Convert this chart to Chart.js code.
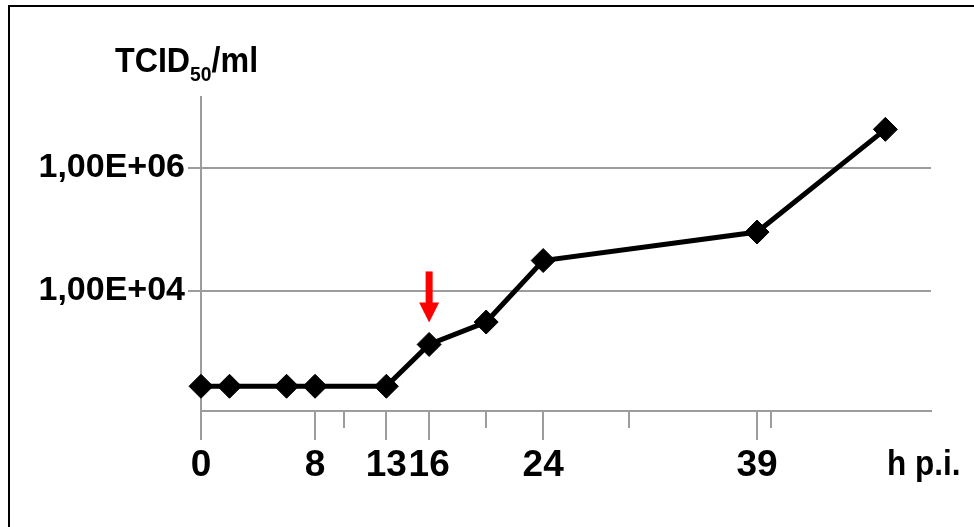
<!DOCTYPE html>
<html>
<head>
<meta charset="utf-8">
<script src="https://cdn.jsdelivr.net/npm/chart.js@4"></script>
<style>
    html, body { margin: 0; padding: 0; background: #fff; }
    #wrap { position: relative; width: 974px; height: 527px; overflow: hidden; }
    #frame { position: absolute; left: 8px; top: 5px; right: -4px; bottom: -4px; border-left: 2px solid #000; border-top: 2px solid #000; }
    canvas { position: absolute; left: 0; top: 0; }
</style>
</head>
<body>
<div id="wrap">
    <div id="frame"></div>
    <canvas id="titerChart" width="974" height="527"></canvas>
</div>
<script>
// hours post infection and measured titre (TCID50/ml)
const hours = [0, 2, 6, 8, 13, 16, 20, 24, 39, 48];
const titer = [280, 280, 280, 280, 280, 1340, 3100, 31000, 90000, 4200000];
const xMajorTicks = [0, 8, 13, 16, 24, 39];
const xMinorTicks = [10, 20, 30, 40];
const yTicks = [1e4, 1e6];
const yTickLabels = ["1,00E+04", "1,00E+06"];
const arrowAt = 16;

const gridGray = "#9c9c9c";
const fontFamily = "'Liberation Sans', Arial, sans-serif";

const decorations = {
    id: "decorations",
    afterDraw(chart) {
        const ctx = chart.ctx;
        const x = chart.scales.x;
        const y = chart.scales.y;

        // short minor ticks under the x axis
        ctx.save();
        ctx.strokeStyle = gridGray;
        ctx.lineWidth = 2;
        xMinorTicks.forEach(v => {
            const px = Math.round(x.getPixelForValue(v));
            ctx.beginPath();
            ctx.moveTo(px, y.bottom);
            ctx.lineTo(px, y.bottom + 17);
            ctx.stroke();
        });
        ctx.restore();

        // y axis title with subscript
        ctx.save();
        ctx.fillStyle = "#000";
        ctx.textBaseline = "alphabetic";
        ctx.translate(115, 72);
        ctx.scale(0.92, 1);
        ctx.font = "bold 35px " + fontFamily;
        ctx.fillText("TCID", 0, 0);
        let w = ctx.measureText("TCID").width;
        ctx.font = "bold 21px " + fontFamily;
        ctx.fillText("50", w, 9);
        w += ctx.measureText("50").width;
        ctx.font = "bold 35px " + fontFamily;
        ctx.fillText("/ml", w, 0);
        ctx.restore();

        // x axis unit label
        ctx.save();
        ctx.fillStyle = "#000";
        ctx.translate(887, 475);
        ctx.scale(0.9, 1);
        ctx.font = "bold 35px " + fontFamily;
        ctx.fillText("h p.i.", 0, 0);
        ctx.restore();

        // red arrow pointing at the 16 h value
        const idx = hours.indexOf(arrowAt);
        const ax = x.getPixelForValue(arrowAt);
        const tip = y.getPixelForValue(titer[idx]) - 22;
        ctx.save();
        ctx.fillStyle = "#f00";
        ctx.fillRect(ax - 3.5, tip - 51, 7, 32);
        ctx.beginPath();
        ctx.moveTo(ax - 10, tip - 20);
        ctx.lineTo(ax + 10, tip - 20);
        ctx.lineTo(ax, tip);
        ctx.closePath();
        ctx.fill();
        ctx.restore();
    }
};

document.addEventListener("DOMContentLoaded", () => {
    const ctx = document.getElementById("titerChart").getContext("2d");

    new Chart(ctx, {
        type: "line",
        data: {
            datasets: [{
                data: hours.map((h, i) => ({ x: h, y: titer[i] })),
                borderColor: "#000",
                borderWidth: 5,
                backgroundColor: "#000",
                pointStyle: "rectRot",
                pointRadius: 12,
                pointBorderWidth: 1,
                pointBackgroundColor: "#000",
                pointBorderColor: "#000",
                tension: 0,
                clip: false
            }]
        },
        options: {
            responsive: false,
            animation: false,
            layout: { padding: { top: 97, right: 43, left: 0, bottom: 0 } },
            plugins: {
                legend: { display: false },
                tooltip: { enabled: false }
            },
            scales: {
                x: {
                    type: "linear",
                    min: 0,
                    max: 51.2,
                    afterFit: s => { s.height = 116; },
                    afterBuildTicks: s => { s.ticks = xMajorTicks.map(v => ({ value: v })); },
                    border: { display: true, color: gridGray, width: 2 },
                    grid: { drawOnChartArea: false, color: gridGray, lineWidth: 2, tickLength: 29 },
                    ticks: {
                        autoSkip: false,
                        maxRotation: 0,
                        padding: 4,
                        color: "#000",
                        font: { family: fontFamily, size: 37, weight: "bold" },
                        callback: v => String(v)
                    }
                },
                y: {
                    type: "logarithmic",
                    min: 111,
                    max: 1.41e7,
                    afterFit: s => { s.width = 201; },
                    afterBuildTicks: s => { s.ticks = yTicks.map(v => ({ value: v })); },
                    border: { display: true, color: gridGray, width: 2 },
                    grid: { color: gridGray, lineWidth: 2, tickLength: 13 },
                    ticks: {
                        padding: 3,
                        color: "#000",
                        font: { family: fontFamily, size: 34, weight: "bold" },
                        callback: v => yTickLabels[yTicks.indexOf(v)] || ""
                    }
                }
            }
        },
        plugins: [decorations]
    });
});
</script>
</body>
</html>
